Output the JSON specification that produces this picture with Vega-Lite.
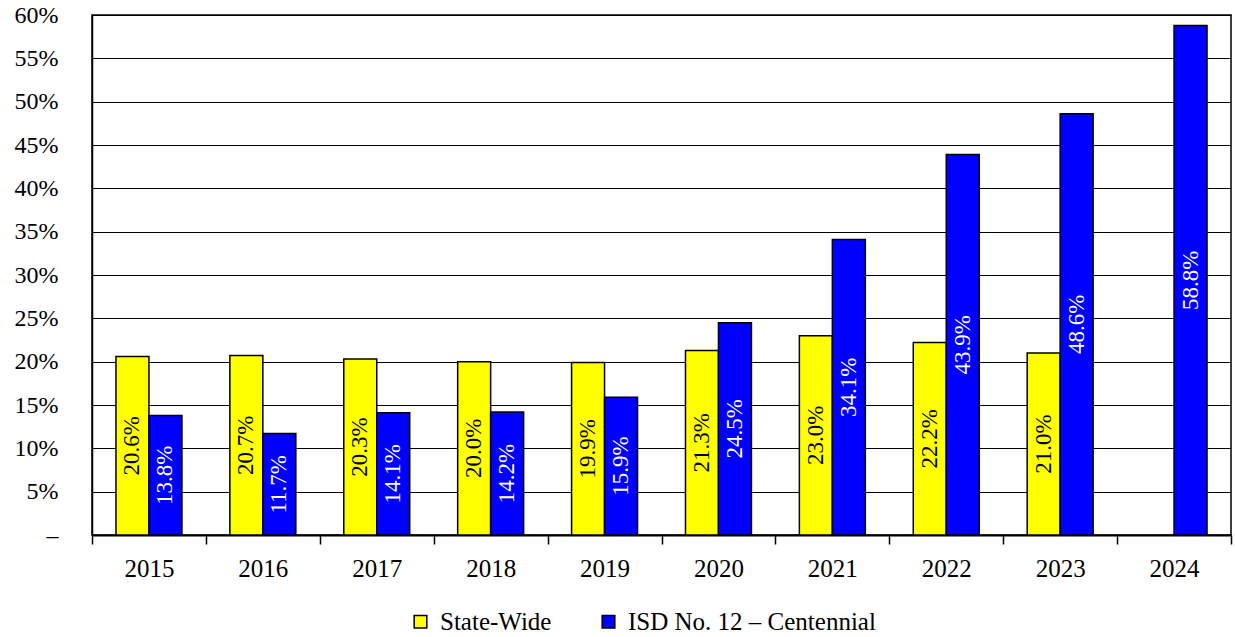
{
  "$schema": "https://vega.github.io/schema/vega-lite/v6.json",
  "autosize": {"type": "none"},
  "padding": {"left": 92, "top": 15, "right": 4, "bottom": 102},
  "width": 1139,
  "height": 520,
  "background": "white",
  "config": {
    "font": "Times New Roman, Liberation Serif, serif",
    "view": {"stroke": "black", "strokeWidth": 1.5},
    "axis": {"labelFont": "Times New Roman, Liberation Serif, serif", "labelColor": "black"},
    "legend": {"labelFont": "Times New Roman, Liberation Serif, serif"},
    "text": {"font": "Times New Roman, Liberation Serif, serif"}
  },
  "data": {
    "values": [
      {"year": "2015", "s": "State-Wide", "v": 0.206},
      {"year": "2015", "s": "ISD No. 12 – Centennial", "v": 0.138},
      {"year": "2016", "s": "State-Wide", "v": 0.207},
      {"year": "2016", "s": "ISD No. 12 – Centennial", "v": 0.117},
      {"year": "2017", "s": "State-Wide", "v": 0.203},
      {"year": "2017", "s": "ISD No. 12 – Centennial", "v": 0.141},
      {"year": "2018", "s": "State-Wide", "v": 0.200},
      {"year": "2018", "s": "ISD No. 12 – Centennial", "v": 0.142},
      {"year": "2019", "s": "State-Wide", "v": 0.199},
      {"year": "2019", "s": "ISD No. 12 – Centennial", "v": 0.159},
      {"year": "2020", "s": "State-Wide", "v": 0.213},
      {"year": "2020", "s": "ISD No. 12 – Centennial", "v": 0.245},
      {"year": "2021", "s": "State-Wide", "v": 0.230},
      {"year": "2021", "s": "ISD No. 12 – Centennial", "v": 0.341},
      {"year": "2022", "s": "State-Wide", "v": 0.222},
      {"year": "2022", "s": "ISD No. 12 – Centennial", "v": 0.439},
      {"year": "2023", "s": "State-Wide", "v": 0.210},
      {"year": "2023", "s": "ISD No. 12 – Centennial", "v": 0.486},
      {"year": "2024", "s": "ISD No. 12 – Centennial", "v": 0.588}
    ]
  },
  "encoding": {
    "x": {
      "field": "year", "type": "nominal", "title": null,
      "scale": {"paddingInner": 0, "paddingOuter": 0},
      "axis": {
        "labelAngle": 0, "labelFontSize": 25, "labelPadding": 12,
        "tickBand": "extent", "tickColor": "black", "tickSize": 9, "tickWidth": 1.5,
        "domainColor": "black", "domainWidth": 2, "grid": false
      }
    },
    "xOffset": {
      "field": "s", "type": "nominal",
      "sort": ["State-Wide", "ISD No. 12 – Centennial"],
      "scale": {"domain": ["State-Wide", "ISD No. 12 – Centennial"], "paddingInner": 0, "paddingOuter": 0.727}
    }
  },
  "layer": [
    {
      "mark": {"type": "bar", "stroke": "black", "strokeWidth": 1.5},
      "encoding": {
        "y": {
          "field": "v", "type": "quantitative", "title": null,
          "scale": {"domain": [0, 0.6], "nice": false},
          "axis": {
            "values": [0, 0.05, 0.1, 0.15, 0.2, 0.25, 0.3, 0.35, 0.4, 0.45, 0.5, 0.55, 0.6],
            "labelExpr": "datum.value == 0 ? '–' : format(datum.value, '.0%')",
            "labelFontSize": 24, "labelPadding": 34, "ticks": false,
            "domainColor": "black", "domainWidth": 1.5,
            "grid": true, "gridColor": "black", "gridWidth": 1.2, "gridOpacity": 1
          }
        },
        "fill": {
          "field": "s", "type": "nominal",
          "sort": ["State-Wide", "ISD No. 12 – Centennial"],
          "scale": {"domain": ["State-Wide", "ISD No. 12 – Centennial"], "range": ["#FFFF00", "#0000FF"]},
          "legend": {
            "title": null, "orient": "none", "direction": "horizontal",
            "legendX": 316, "legendY": 594,
            "symbolType": "square", "symbolSize": 160,
            "symbolStrokeColor": "black", "symbolStrokeWidth": 1.5,
            "labelFontSize": 25, "labelColor": "black", "labelOffset": 7,
            "columnPadding": 44, "labelLimit": 400
          }
        }
      }
    },
    {
      "mark": {"type": "text", "angle": 270, "align": "center", "baseline": "middle", "fontSize": 23, "font": "Times New Roman, Liberation Serif, serif"},
      "encoding": {
        "y": {"field": "v", "type": "quantitative", "scale": {"domain": [0, 1.2], "nice": false}, "axis": null},
        "text": {"field": "v", "type": "quantitative", "format": ".1%"},
        "color": {
          "field": "s", "type": "nominal",
          "scale": {"domain": ["State-Wide", "ISD No. 12 – Centennial"], "range": ["black", "white"]},
          "legend": null
        }
      }
    }
  ],
  "resolve": {"scale": {"y": "independent", "color": "independent"}}
}
